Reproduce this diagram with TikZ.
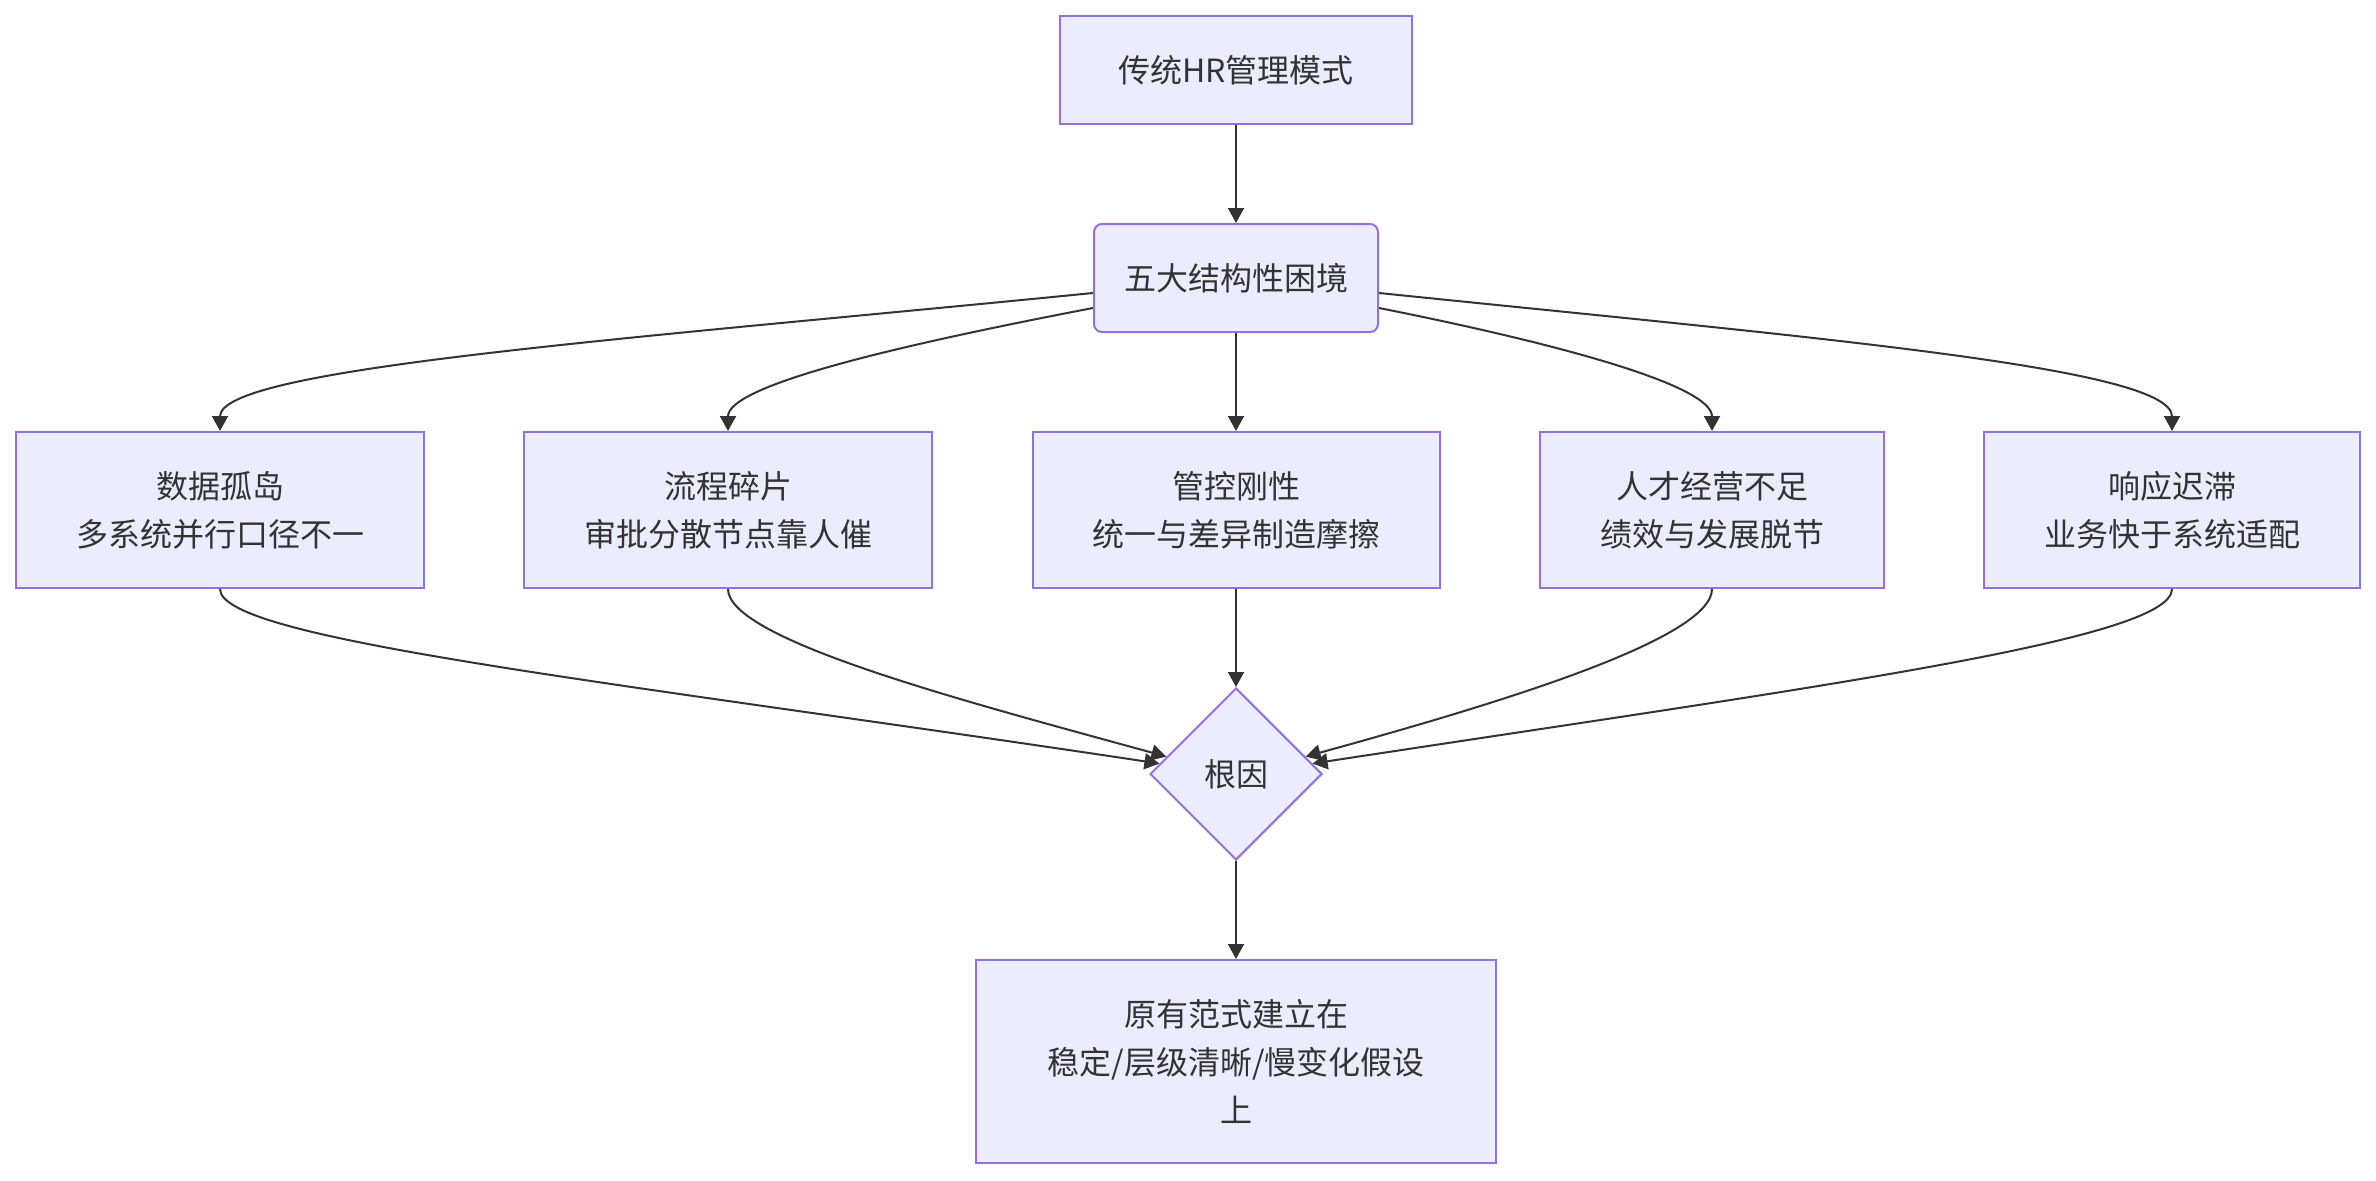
\documentclass[tikz,border=0pt]{standalone}
\usepackage{fontspec}
\setmainfont{Noto Sans CJK SC}
\usetikzlibrary{arrows.meta,shapes.geometric,calc}
\definecolor{nodefill}{HTML}{ECECFF}
\definecolor{nodeline}{HTML}{9370DB}
\definecolor{ink}{HTML}{333333}
\begin{document}
\begin{tikzpicture}[x=1pt,y=-1pt,
 box/.style={draw=nodeline, fill=nodefill, line width=2pt, text=ink, font=\fontsize{32}{48}\selectfont, align=center, inner sep=0pt},
 edge/.style={draw=ink, line width=2pt, -{Triangle[length=15pt,width=16pt]}}]
\useasboundingbox (0,0) rectangle (2376,1180);
\node[box, minimum width=352, minimum height=108] (top) at (1236,70) {传统HR管理模式};
\node[box, rounded corners=8pt, minimum width=284, minimum height=108] (five) at (1236,278) {五大结构性困境};
\node[box, minimum width=408, minimum height=156] (b1) at (220,510) {数据孤岛\\多系统并行口径不一};
\node[box, minimum width=408, minimum height=156] (b2) at (728,510) {流程碎片\\审批分散节点靠人催};
\node[box, minimum width=407, minimum height=156] (b3) at (1236,510) {管控刚性\\统一与差异制造摩擦};
\node[box, minimum width=344, minimum height=156] (b4) at (1712,510) {人才经营不足\\绩效与发展脱节};
\node[box, minimum width=376, minimum height=156] (b5) at (2172,510) {响应迟滞\\业务快于系统适配};
\node[box, diamond, minimum width=172, minimum height=172] (dia) at (1236,774) {根因};
\node[box, minimum width=520, minimum height=203] (bot) at (1236,1061.5) {原有范式建立在\\稳定/层级清晰/慢变化假设\\上};
\draw[edge] (top.south) -- (five.north);
\draw[edge] ($(five.west)+(0,15)$) .. controls (620,340) and (220,368) .. (b1.north);
\draw[edge] ($(five.west)+(0,30)$) .. controls (900,345) and (728,385) .. (b2.north);
\draw[edge] (five.south) -- (b3.north);
\draw[edge] ($(five.east)+(0,30)$) .. controls (1555,343) and (1712,385) .. (b4.north);
\draw[edge] ($(five.east)+(0,15)$) .. controls (1827,339) and (2172,368) .. (b5.north);
\draw[edge] (b1.south) .. controls (220,640) and (611,681) .. ($(dia.west)!0.12!(dia.north)$);
\draw[edge] (b2.south) .. controls (728,640) and (968,702) .. ($(dia.west)!0.2!(dia.north)$);
\draw[edge] (b3.south) -- (dia.north);
\draw[edge] (b4.south) .. controls (1712,640) and (1489,706) .. ($(dia.east)!0.2!(dia.north)$);
\draw[edge] (b5.south) .. controls (2172,640) and (1814,687) .. ($(dia.east)!0.12!(dia.north)$);
\draw[edge] (dia.south) -- (bot.north);
\end{tikzpicture}
\end{document}
